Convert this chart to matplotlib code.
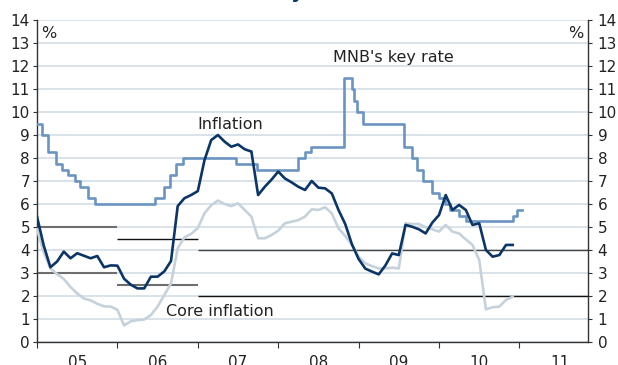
import numpy as np
import matplotlib.pyplot as plt

# monthly CPI and core inflation, Jan 2005 .. Dec 2010 (%, year on year)
inflation = [5.45, 4.2, 3.25, 3.5, 3.93, 3.64, 3.86, 3.75, 3.64, 3.74, 3.25, 3.33,
             3.32, 2.75, 2.49, 2.33, 2.33, 2.84, 2.84, 3.07, 3.52, 5.91, 6.25, 6.39,
             6.56, 7.91, 8.78, 9.0, 8.71, 8.49, 8.59, 8.38, 8.28, 6.39, 6.75, 7.06,
             7.41, 7.11, 6.94, 6.75, 6.61, 7.0, 6.71, 6.68, 6.46, 5.74, 5.13, 4.25,
             3.61, 3.19, 3.06, 2.94, 3.33, 3.85, 3.78, 5.09, 5.01, 4.9, 4.72, 5.19,
             5.52, 6.39, 5.74, 5.96, 5.74, 5.09, 5.16, 4.0, 3.71, 3.78, 4.22, 4.22]
core_inflation = [4.9, 3.9, 3.2, 2.95, 2.74, 2.39, 2.11, 1.89, 1.81, 1.66, 1.55, 1.54,
                  1.4, 0.72, 0.9, 0.95, 0.98, 1.17, 1.54, 2.04, 2.55, 4.07, 4.55, 4.7,
                  4.95, 5.6, 5.95, 6.15, 6.0, 5.91, 6.03, 5.74, 5.45, 4.51, 4.51, 4.65,
                  4.84, 5.16, 5.23, 5.3, 5.45, 5.77, 5.74, 5.86, 5.59, 4.94, 4.61, 4.22,
                  3.71, 3.42, 3.3, 3.2, 3.2, 3.23, 3.2, 5.16, 5.13, 5.13, 4.99, 4.9,
                  4.8, 5.09, 4.8, 4.72, 4.46, 4.22, 3.57, 1.42, 1.51, 1.54, 1.83, 1.97]

# central bank base rate: months since Jan 2005 at which each rate took effect
rate_months = [0, 0.7, 1.68, 2.84, 3.69, 4.67, 5.67, 6.42, 7.66, 8.66,
               17.6, 18.9, 19.85, 20.75, 21.75, 29.7, 32.8, 39.0, 40.0, 40.85,
               45.8, 46.97, 47.3, 47.7, 48.6, 54.8, 55.9, 56.7, 57.6, 58.9,
               60.0, 60.9, 61.7, 63.0, 64.0, 71.0, 71.6, 72.4]
key_rate = [9.5, 9.0, 8.25, 7.75, 7.5, 7.25, 7.0, 6.75, 6.25, 6.0,
            6.25, 6.75, 7.25, 7.75, 8.0, 7.75, 7.5, 8.0, 8.25, 8.5,
            11.5, 11.0, 10.5, 10.0, 9.5, 8.5, 8.0, 7.5, 7.0, 6.5,
            6.25, 6.0, 5.75, 5.5, 5.25, 5.5, 5.75, 5.75]

# inflation targets: (start year, end year, value)
targets = [(2005, 2006, 5.0), (2005, 2006, 3.0),
           (2006, 2007, 4.5), (2006, 2007, 2.5),
           (2007, 2011.86, 4.0), (2007, 2011.86, 2.0)]
target_colors = ['#6e6e6e', '#6e6e6e', '#111111', '#6e6e6e', '#444444', '#111111']
target_widths = [1.5, 1.5, 1.0, 1.5, 1.0, 1.0]

year_labels = ['05', '06', '07', '08', '09', '10', '11']

months = 2005 + np.arange(len(inflation)) / 12
rate_x = 2005 + np.array(rate_months) / 12

W, H = 618, 365
fig = plt.figure(figsize=(W / 100, H / 100), dpi=100)
ax = fig.add_axes([37 / W, 23 / H, 551 / W, 322 / H])

ax.set_xlim(2005, 2011.853)
ax.set_ylim(0, 14)

for (x0, x1, v), c, lw in zip(targets, target_colors, target_widths):
    ax.plot([x0, x1], [v, v], color=c, lw=lw, zorder=2, solid_capstyle='butt')

ax.plot(months, core_inflation, color='#c5d2dc', lw=1.9, zorder=3)
ax.step(rate_x, key_rate, where='post', color='#6b94c0', lw=1.9, zorder=4)
ax.plot(months, inflation, color='#0a3566', lw=1.9, zorder=5)

lab = dict(fontsize=11.5, color='#222222', va='center')
ax.text(2008.68, 12.35, "MNB's key rate", **lab)
ax.text(2006.99, 9.45, "Inflation", **lab)
ax.text(2006.6, 1.32, "Core inflation", **lab)
ax.text(2005.05, 13.43, "%", **lab)
ax.text(2011.79, 13.43, "%", ha='right', **lab)

# grid and axes
ax.set_yticks(range(15))
ax.yaxis.grid(True, color='#d3dde6', lw=1.2)
ax.set_axisbelow(True)
for s in ['left', 'right', 'bottom']:
    ax.spines[s].set_color('#333333')
    ax.spines[s].set_linewidth(1.0)
ax.spines['top'].set_visible(False)

ax.set_xticks(range(2005, 2012))
ax.set_xticklabels([])
ax.set_xticks([y + 0.5 for y in range(2005, 2012)], minor=True)
ax.set_xticklabels(year_labels, minor=True)
ax.tick_params(axis='x', which='major', length=4, direction='out', color='#333333')
ax.tick_params(axis='x', which='minor', length=0, pad=9.5, labelsize=11, labelcolor='#222222')
ax.tick_params(axis='y', length=3, direction='out', color='#333333', pad=2,
               labelsize=11, labelcolor='#222222')

ax2 = ax.twinx()
ax2.set_ylim(0, 14)
ax2.set_yticks(range(15))
ax2.tick_params(axis='y', length=3, direction='out', color='#333333', pad=4,
                labelsize=11, labelcolor='#222222')
for s in ax2.spines.values():
    s.set_visible(False)

fig.text(75 / W, 1 + 1.5 / H, "Inflation and the key rate", ha='left', va='baseline',
         fontsize=14, fontweight='bold', color='#0a3566')

fig.savefig('out.png', dpi=100)
